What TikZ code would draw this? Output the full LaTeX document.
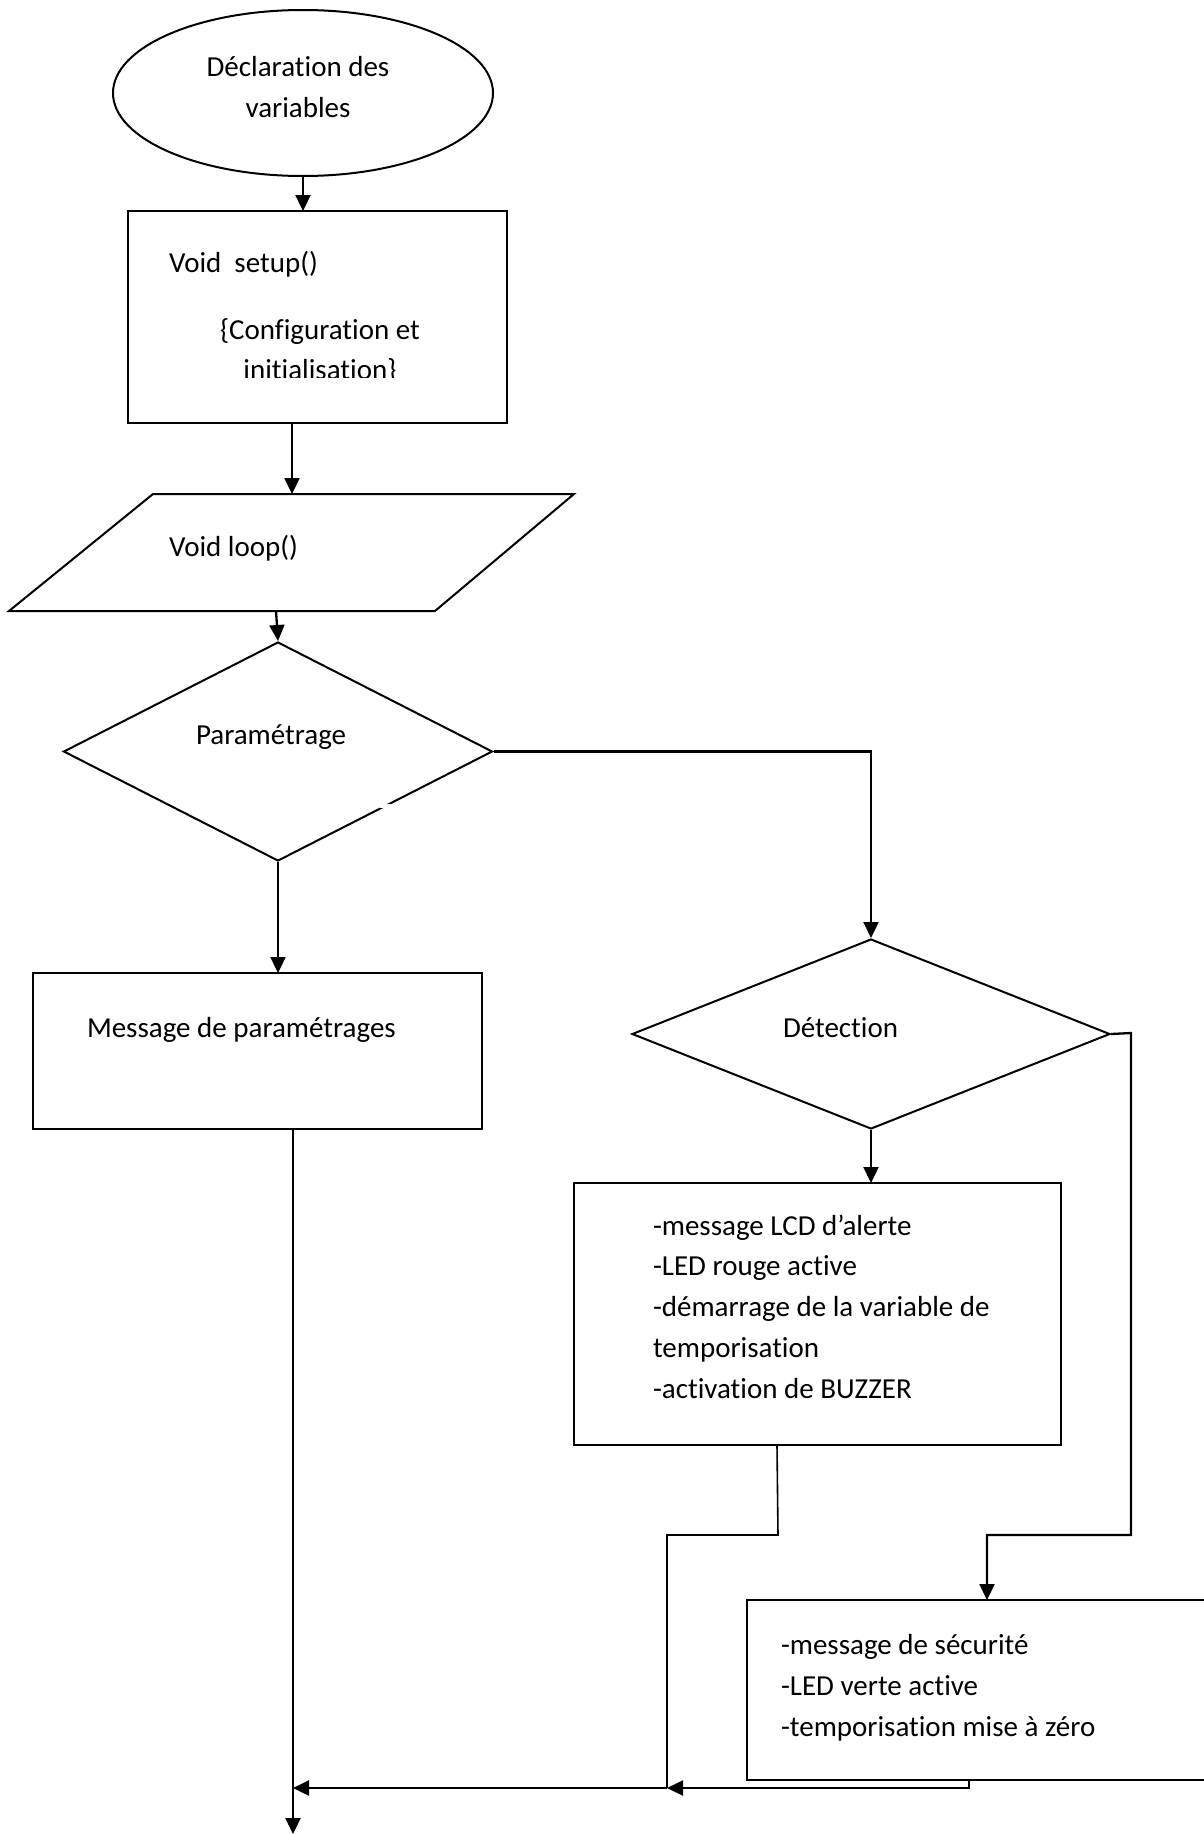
\documentclass[tikz,border=0pt]{standalone}
\usepackage{fontspec}
\setmainfont[Ligatures=NoCommon]{Carlito}
\usetikzlibrary{shapes.geometric,arrows.meta}
\begin{document}
\begin{tikzpicture}[x=1pt,y=-1pt,
  line width=2pt,
  box/.style={draw, rectangle, inner sep=0pt, outer sep=0pt},
  txt/.style={inner sep=0pt, anchor=base west, font=\fontsize{29pt}{41pt}\selectfont},
  ctxt/.style={txt, anchor=base},
  arr/.style={line width=2.3pt, -{Triangle[length=16pt,width=15pt]}},
  thinline/.style={line width=1.6pt},
  ]
\fill[white] (0,0) rectangle (1203,1834);
\useasboundingbox (0,0) rectangle (1203,1834);

% start ellipse
\node[draw, ellipse, minimum width=380pt, minimum height=166pt, inner sep=0pt] (decl) at (303,93) {};
\node[ctxt] (declA) at (298,76) {Déclaration des};
\node[ctxt] (declB) at (298,117) {variables};

% setup box
\node[box, minimum width=379pt, minimum height=212pt] (setup) at (317.5,317) {};
\node[txt] (setupA) at (168,272) {Void\ \ setup()};
\node[ctxt] (setupB) at (320,339) {\{Configuration et};
\begin{scope}
  \clip (130,213) rectangle (505,377);
  \node[ctxt] (setupC) at (320,379) {initialisation\}};
\end{scope}

% loop parallelogram
\draw (153,494) -- (574,494) -- (435,611) -- (9,611) -- cycle;
\coordinate (loopIn) at (292,494);
\coordinate (loopOut) at (276,611);
\node[txt] (loopT) at (168,556) {Void loop()};

% Parametrage diamond
\node[draw, diamond, minimum width=429pt, minimum height=219pt, inner sep=0pt] (param) at (278,751.5) {};
\fill[white] (380,803.5) rectangle (394,807.5);
\node[txt] (paramT) at (195,744) {Paramétrage};

% message box
\node[box, minimum width=449pt, minimum height=156pt] (msg) at (257.5,1051) {};
\node[txt] (msgT) at (86,1037) {Message de paramétrages};

% Detection diamond
\node[draw, diamond, minimum width=478pt, minimum height=190pt, inner sep=0pt] (det) at (871,1034) {};
\node[txt] (detT) at (782,1037) {Détection};

% alert box
\node[box, minimum width=487pt, minimum height=262pt] (alert) at (817.5,1314) {};
\node[txt] (al1) at (652,1235) {-message LCD d’alerte};
\node[txt] (al2) at (652,1275) {-LED rouge active};
\node[txt] (al3) at (652,1316) {-démarrage de la variable de};
\node[txt] (al4) at (652,1357) {temporisation};
\node[txt] (al5) at (652,1398) {-activation de BUZZER};

% security box (right side cut by the page edge)
\node[rectangle, inner sep=0pt, minimum width=456pt, minimum height=178pt] (sec) at (976,1690) {};
\draw (sec.north east) -- (sec.north west) -- (sec.south west) -- (sec.south east);
\node[txt] (sc1) at (780,1654) {-message de sécurité};
\node[txt] (sc2) at (780,1695) {-LED verte active};
\node[txt] (sc3) at (780,1736) {-temporisation mise à zéro};

% connectors
\draw[arr] (decl.south) -- (decl.south |- setup.north);
\draw[arr] (loopIn |- setup.south) -- (loopIn);
\draw[arr] (loopOut) -- (param.north);
\draw[arr] (param.south) -- (param.south |- msg.north);
\draw[arr] (param.east) -| (det.north);
\draw[arr] (det.south) -- (det.south |- alert.north);

\coordinate (r1) at (1131,1033);
\coordinate (r2) at (1131,1535);
\coordinate (r3) at (987,1535);
\draw[arr] (det.east) -- (r1) -- (r2) -- (r3) -- (r3 |- sec.north);

\coordinate (a1) at (777,1445);
\coordinate (a2) at (778,1535);
\coordinate (a3) at (667,1535);
\coordinate (j1) at (667,1788);
\coordinate (j0) at (293,1788);
\draw[thinline] (a1) -- (a2) -- (a3) -- (j1);
\draw[arr] (j1) -- (j0);

\coordinate (s1) at (969,1779);
\coordinate (s2) at (969,1788);
\draw[arr, line width=2pt] (s1) -- (s2) -- (j1);

\coordinate (mOut) at (293,1129);
\coordinate (endPt) at (293,1834);
\draw[arr] (mOut) -- (endPt);
\end{tikzpicture}
\end{document}
